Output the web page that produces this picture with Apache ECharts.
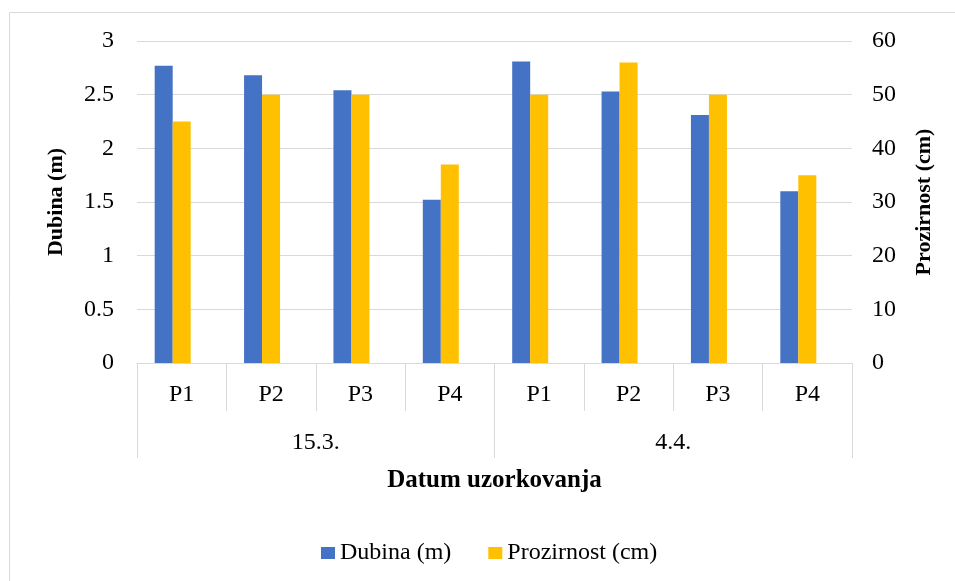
<!DOCTYPE html>
<html>
<head>
<meta charset="utf-8">
<script src="https://cdn.jsdelivr.net/npm/echarts@6/dist/echarts.min.js"></script>
<style>
  html, body { margin: 0; padding: 0; background: #fff; }
  #chart { width: 955px; height: 581px; }
</style>
</head>
<body>
<div id="chart"></div>
<script>
// categories
const points = ['P1', 'P2', 'P3', 'P4', 'P1', 'P2', 'P3', 'P4']
const dates = ['15.3.', '4.4.']

// series values
const dubina = [2.77, 2.68, 2.54, 1.52, 2.81, 2.53, 2.31, 1.60]
const prozirnost = [45, 50, 50, 37, 50, 56, 50, 35]
const empty = points.map(() => null)

const FONT = '"Liberation Serif", "Times New Roman", serif'
const GRID = '#d9d9d9'

const chart = echarts.init(document.getElementById('chart'))

chart.setOption({
  animation: false,
  textStyle: { fontFamily: FONT, color: '#000' },
  grid: { left: 137, right: 103, top: 41, bottom: 218 },
  graphic: [{
    type: 'rect',
    shape: { x: 9.5, y: 12.5, width: 960, height: 600 },
    style: { fill: 'none', stroke: GRID, lineWidth: 1 },
    silent: true
  }],
  legend: {
    data: ['Dubina (m)', 'Prozirnost (cm)'],
    left: 316, top: 536,
    itemWidth: 14, itemHeight: 12, itemGap: 37,
    icon: 'rect',
    textStyle: { fontFamily: FONT, fontSize: 24, color: '#000' }
  },
  xAxis: [
    {
      type: 'category', data: points, position: 'bottom',
      axisLine: { lineStyle: { color: GRID, width: 1 } },
      axisTick: { show: true, interval: 0, length: 48, lineStyle: { color: GRID } },
      axisLabel: { interval: 0, margin: 20, fontFamily: FONT, fontSize: 24, color: '#000' }
    },
    {
      type: 'category', data: dates, position: 'bottom',
      axisLine: { show: false },
      axisTick: { show: true, interval: 0, length: 95, lineStyle: { color: GRID } },
      axisLabel: { interval: 0, margin: 68, fontFamily: FONT, fontSize: 24, color: '#000' },
      name: 'Datum uzorkovanja', nameLocation: 'middle', nameGap: 105,
      nameTextStyle: { fontFamily: FONT, fontSize: 25, fontWeight: 'bold', color: '#000' }
    }
  ],
  yAxis: [
    {
      type: 'value', min: 0, max: 3, interval: 0.5,
      axisLine: { show: false }, axisTick: { show: false },
      splitLine: { lineStyle: { color: GRID, width: 1 } },
      axisLabel: { margin: 23, fontFamily: FONT, fontSize: 24, color: '#000' },
      name: 'Dubina (m)', nameLocation: 'middle', nameGap: 70, nameRotate: 90,
      nameTextStyle: { fontFamily: FONT, fontSize: 22, fontWeight: 'bold', color: '#000' }
    },
    {
      type: 'value', min: 0, max: 60, interval: 10, position: 'right',
      axisLine: { show: false }, axisTick: { show: false },
      splitLine: { show: false },
      axisLabel: { margin: 20, fontFamily: FONT, fontSize: 24, color: '#000' },
      name: 'Prozirnost (cm)', nameLocation: 'middle', nameGap: 61, nameRotate: 90,
      nameTextStyle: { fontFamily: FONT, fontSize: 22, fontWeight: 'bold', color: '#000' }
    }
  ],
  series: [
    {
      name: 'Dubina (m)', type: 'bar', xAxisIndex: 0, yAxisIndex: 0,
      data: dubina, barWidth: 18, barGap: '0%',
      itemStyle: { color: '#4472C4' }
    },
    {
      name: 'Prozirnost (cm)', type: 'bar', xAxisIndex: 0, yAxisIndex: 1,
      data: prozirnost, barWidth: 18, barGap: '0%',
      itemStyle: { color: '#FFC000' }
    },
    {
      // empty slot so the pair sits left of centre, as in the original
      name: 'pad', type: 'bar', xAxisIndex: 0, yAxisIndex: 0,
      data: empty, barWidth: 18, barGap: '0%', silent: true
    }
  ]
})
</script>
</body>
</html>
